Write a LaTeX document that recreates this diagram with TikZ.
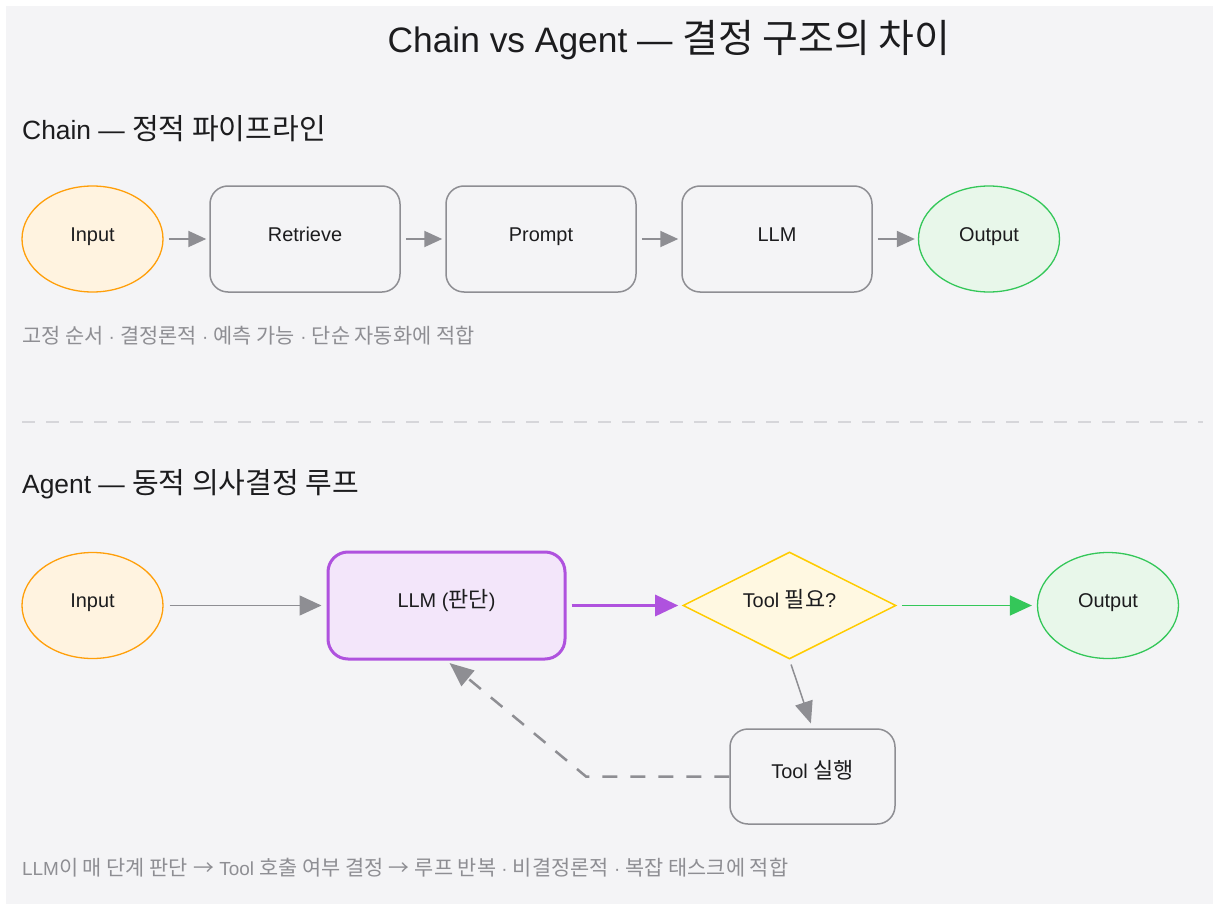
\documentclass[tikz,border=0pt]{standalone}
\usepackage{fontspec}
\setmainfont{Liberation Sans}
\newfontfamily\kr[Scale=1.1]{Noto Sans CJK KR}
\usetikzlibrary{arrows.meta,shapes.geometric}
\newcommand\K[1]{{\kr #1}}
\definecolor{panel}{HTML}{F4F4F6}
\definecolor{ink}{HTML}{1C1C1E}
\definecolor{muted}{HTML}{8E8E93}
\definecolor{sepc}{HTML}{D6D6DA}
\definecolor{orng}{HTML}{FF9F0A}
\definecolor{orngfill}{HTML}{FFF3E0}
\definecolor{grn}{HTML}{34C759}
\definecolor{grnfill}{HTML}{E8F7EA}
\definecolor{purp}{HTML}{AF52DE}
\definecolor{purpfill}{HTML}{F3E6FA}
\definecolor{yel}{HTML}{FFCC00}
\definecolor{yelfill}{HTML}{FFF8E1}
\tikzset{
  lbl/.style={inner sep=0pt, text height=12bp, text depth=8bp, font=\fontsize{20}{24}\selectfont, text=ink},
  ellnode/.style={ellipse, lbl, minimum width=141bp, minimum height=106bp, line width=1.3bp},
  boxnode/.style={rectangle, rounded corners=18bp, draw=muted, lbl, minimum width=190bp, minimum height=106bp, line width=1.5bp},
  arr/.style={draw=muted, line width=2bp, -{Triangle[length=18bp,width=16bp]}, shorten <=5bp, shorten >=3bp},
  garr/.style={draw=muted, line width=1.5bp, -{Triangle[length=22bp,width=20bp]}, shorten <=5bp, shorten >=5bp},
  parr/.style={draw=purp, line width=3bp, -{Triangle[length=23bp,width=21bp]}, shorten <=5bp, shorten >=4bp},
  grarr/.style={draw=grn, line width=1.5bp, -{Triangle[length=22bp,width=20bp]}, shorten <=5bp, shorten >=5bp},
  looparr/.style={draw=muted, line width=2.5bp, dash pattern=on 15bp off 13bp, -{Triangle[length=24bp,width=20bp]}, shorten >=4bp},
  headtxt/.style={anchor=base west, inner sep=0pt, font=\fontsize{26.5}{30}\selectfont, text=ink},
  captxt/.style={anchor=base west, inner sep=0pt, font=\fontsize{19}{23}\selectfont, text=muted}
}
\begin{document}
\begin{tikzpicture}[x=1bp,y=-1bp]
\useasboundingbox (0,0) rectangle (1213,904);
\fill[white] (0,0) rectangle (1213,904);
\fill[panel] (6,6) rectangle (1213,904);

\node[anchor=base, inner sep=0pt, font=\fontsize{35.5}{40}\selectfont, text=ink] (title) at (669,52) {Chain vs Agent — \K{결정 구조의 차이}};

% Chain
\node[headtxt] (h1) at (22,139) {Chain — \K{정적 파이프라인}};
\node[ellnode, draw=orng, fill=orngfill] (cin) at (92.5,239) {Input};
\node[boxnode] (ret) at (305,239) {Retrieve};
\node[boxnode] (prm) at (541,239) {Prompt};
\node[boxnode] (cllm) at (777,239) {LLM};
\node[ellnode, draw=grn, fill=grnfill] (cout) at (989,239) {Output};
\draw[arr] (cin) -- (ret);
\draw[arr] (ret) -- (prm);
\draw[arr] (prm) -- (cllm);
\draw[arr] (cllm) -- (cout);
\node[captxt] (cap1) at (22,343) {\K{고정 순서} · \K{결정론적} · \K{예측 가능} · \K{단순 자동화에 적합}};

% separator
\coordinate (s1) at (22,422);
\coordinate (s2) at (1203,422);
\draw[sepc, line width=2.5bp, dash pattern=on 13bp off 11bp] (s1) -- (s2);

% Agent
\node[headtxt] (h2) at (22,493) {Agent — \K{동적 의사결정 루프}};
\node[ellnode, draw=orng, fill=orngfill] (ain) at (92.5,605.5) {Input};
\node[rectangle, rounded corners=20bp, draw=purp, fill=purpfill, line width=3bp, lbl, minimum width=237bp, minimum height=107bp] (allm) at (446.5,605.5) {LLM (\K{판단})};
\node[diamond, aspect=2, draw=yel, fill=yelfill, line width=1.5bp, lbl, minimum width=213bp, minimum height=107bp] (dec) at (789.5,605.5) {Tool \K{필요}?};
\node[ellnode, draw=grn, fill=grnfill] (aout) at (1108,605.5) {Output};
\node[boxnode, minimum width=165bp, minimum height=95bp] (tool) at (812.5,776.5) {Tool \K{실행}};
\coordinate (bend) at (586,776.5);
\draw[garr, shorten <=6bp] (ain) -- (allm);
\draw[parr] (allm) -- (dec);
\draw[grarr] (dec) -- (aout);
\draw[garr, -{Triangle[length=22bp,width=18bp]}] (dec.south) -- (tool.north);
\draw[looparr] (tool.west) -- (bend) -- (allm.south);
\node[captxt] (cap2) at (22,875) {LLM\K{이 매 단계 판단} \K{→} Tool \K{호출 여부 결정} \K{→} \K{루프 반복} · \K{비결정론적} · \K{복잡 태스크에 적합}};
\end{tikzpicture}
\end{document}
